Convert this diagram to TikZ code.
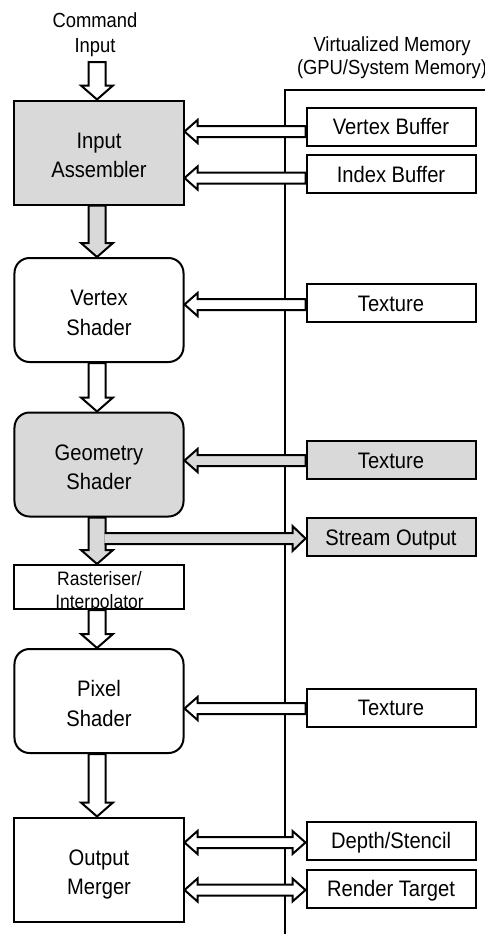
\documentclass[tikz,border=0pt]{standalone}
\usepackage{fontspec}
\setmainfont{Liberation Sans}[FakeStretch=0.9]
\usetikzlibrary{calc}
\definecolor{panelgray}{RGB}{217,217,217}

% two centred lines with fixed top and bottom struts, so every box
% places its baselines the same way
\newcommand\twolines[4]{\rule{0pt}{#1}#3\\#4\rule[-#2]{0pt}{#2}}

\tikzset{
  stage/.style={draw, line width=2bp, minimum width=169bp, minimum height=104bp,
    align=center, inner sep=0pt, font=\fontsize{22.5}{30}\selectfont},
  shader/.style={stage, rounded corners=15bp},
  membox/.style={draw, line width=2bp, minimum width=169bp, minimum height=38bp,
    inner sep=0pt, text height=16bp, text depth=0pt, font=\fontsize{22.5}{25}\selectfont},
  caption/.style={align=center, inner sep=0pt},
  arrowline/.style={line width=2bp, line join=miter, miter limit=10},
  memline/.style={line width=2bp},
}

% Hollow block arrow: #1 fill, #2 half shaft width, #3 half head width,
% #4 head length, #5 tail, #6 tip
\newcommand\blockarrow[6]{%
  \path #5 coordinate (ba-s) #6 coordinate (ba-e);
  \path ($(ba-e)!#4!(ba-s)$) coordinate (ba-h);
  \filldraw[arrowline, fill=#1]
    ($(ba-s)!#2!90:(ba-e)$) -- ($(ba-h)!#2!90:(ba-e)$) -- ($(ba-h)!#3!90:(ba-e)$)
    -- (ba-e) -- ($(ba-h)!#3!-90:(ba-e)$) -- ($(ba-h)!#2!-90:(ba-e)$)
    -- ($(ba-s)!#2!-90:(ba-e)$) -- cycle;
}
% Same, with the tail left open so it merges into another arrow
\newcommand\brancharrow[6]{%
  \path #5 coordinate (ba-s) #6 coordinate (ba-e);
  \path ($(ba-e)!#4!(ba-s)$) coordinate (ba-h);
  \filldraw[arrowline, fill=#1]
    ($(ba-s)!#2!90:(ba-e)$) -- ($(ba-h)!#2!90:(ba-e)$) -- ($(ba-h)!#3!90:(ba-e)$)
    -- (ba-e) -- ($(ba-h)!#3!-90:(ba-e)$) -- ($(ba-h)!#2!-90:(ba-e)$)
    -- ($(ba-s)!#2!-90:(ba-e)$);
}
% Two-headed hollow arrow
\newcommand\twowayarrow[6]{%
  \path #5 coordinate (ba-s) #6 coordinate (ba-e);
  \path ($(ba-e)!#4!(ba-s)$) coordinate (ba-h) ($(ba-s)!#4!(ba-e)$) coordinate (ba-g);
  \filldraw[arrowline, fill=#1]
    (ba-s) -- ($(ba-g)!#3!90:(ba-e)$) -- ($(ba-g)!#2!90:(ba-e)$)
    -- ($(ba-h)!#2!90:(ba-e)$) -- ($(ba-h)!#3!90:(ba-e)$)
    -- (ba-e) -- ($(ba-h)!#3!-90:(ba-e)$) -- ($(ba-h)!#2!-90:(ba-e)$)
    -- ($(ba-g)!#2!-90:(ba-e)$) -- ($(ba-g)!#3!-90:(ba-e)$) -- cycle;
}

\begin{document}
\begin{tikzpicture}[x=1bp, y=-1bp]
\useasboundingbox (0,0) rectangle (485,934);

% memory boundary
\draw[memline] (285,934) -- (285,90) -- (490,90);
\node[caption, font=\fontsize{20.5}{24}\selectfont] (vmem) at (392,56)
  {\twolines{20bp}{6bp}{Virtualized Memory}{(GPU/System Memory)}};

% pipeline stages
\node[caption, font=\fontsize{20.5}{26}\selectfont] (cmd) at (95,33)
  {\twolines{20bp}{6bp}{Command}{Input}};
\node[stage, fill=panelgray] (ia) at (99,152.5) {\twolines{27bp}{6bp}{Input}{Assembler}};
\node[shader, fill=white] (vs) at (99,310) {\twolines{27bp}{6bp}{Vertex}{Shader}};
\node[shader, fill=panelgray] (gs) at (99,464.5) {\twolines{27bp}{6bp}{Geometry}{Shader}};
\node[draw, line width=2bp, minimum width=169bp, minimum height=44bp, inner sep=0pt,
      fill=white] (rast) at (99,587) {};
\node[caption, font=\fontsize{19.5}{24}\selectfont] (rastlabel) at (99.5,590)
  {\twolines{20bp}{6bp}{Rasteriser/}{Interpolator}};
\node[shader, fill=white] (ps) at (99,701) {\twolines{27bp}{6bp}{Pixel}{Shader}};
\node[stage, fill=white] (om) at (99,869.5) {\twolines{27bp}{6bp}{Output}{Merger}};

% memory resources
\node[membox] (vb) at (391,126.5) {Vertex Buffer};
\node[membox] (ib) at (391,174) {Index Buffer};
\node[membox] (tx1) at (391,303) {Texture};
\node[membox, fill=panelgray] (tx2) at (391,460) {Texture};
\node[membox, fill=panelgray] (so) at (391,537) {Stream Output};
\node[membox] (tx3) at (391,707.5) {Texture};
\node[membox] (ds) at (391,840.5) {Depth/Stencil};
\node[membox] (rt) at (391,888.5) {Render Target};

% down the pipeline
\coordinate (cmdfoot) at (97,62);
\blockarrow{white}{8.5bp}{16bp}{14bp}{(cmdfoot)}{(ia.north -| cmdfoot)}
\blockarrow{panelgray}{8.5bp}{16bp}{14bp}{(ia.south -| cmdfoot)}{(vs.north -| cmdfoot)}
\blockarrow{white}{8.5bp}{16bp}{14bp}{(vs.south -| cmdfoot)}{(gs.north -| cmdfoot)}
\blockarrow{panelgray}{8.5bp}{16bp}{14bp}{(gs.south -| cmdfoot)}{(rast.north -| cmdfoot)}
\blockarrow{white}{8.5bp}{16bp}{14bp}{(rast.south -| cmdfoot)}{(ps.north -| cmdfoot)}
\blockarrow{white}{8.5bp}{16bp}{14bp}{(ps.south -| cmdfoot)}{(om.north -| cmdfoot)}

% reads from memory
\coordinate (vbin) at ($(vb.west)+(0,5)$);
\coordinate (ibin) at ($(ib.west)+(0,4)$);
\coordinate (tx1in) at ($(tx1.west)+(0,1.5)$);
\coordinate (tx2in) at ($(tx2.west)+(0,0.5)$);
\coordinate (tx3in) at ($(tx3.west)+(0,1)$);
\blockarrow{white}{5.5bp}{11.5bp}{13bp}{(vbin)}{(ia.east |- vbin)}
\blockarrow{white}{5.5bp}{11.5bp}{13bp}{(ibin)}{(ia.east |- ibin)}
\blockarrow{white}{5.5bp}{11.5bp}{13bp}{(tx1in)}{(vs.east |- tx1in)}
\blockarrow{panelgray}{5.5bp}{11.5bp}{13bp}{(tx2in)}{(gs.east |- tx2in)}
\blockarrow{white}{5.5bp}{11.5bp}{13bp}{(tx3in)}{(ps.east |- tx3in)}

% stream output branches off the geometry shader arrow
\coordinate (soin) at ($(so.west)+(0,1.5)$);
\brancharrow{panelgray}{5.5bp}{12.5bp}{13bp}{($(cmdfoot |- soin)+(7.5,0)$)}{(soin)}

% read/write targets
\coordinate (dsio) at ($(ds.west)+(0,2)$);
\coordinate (rtio) at ($(rt.west)+(0,1.5)$);
\twowayarrow{white}{5.5bp}{11.5bp}{13bp}{(om.east |- dsio)}{(dsio)}
\twowayarrow{white}{5.5bp}{11.5bp}{13bp}{(om.east |- rtio)}{(rtio)}
\end{tikzpicture}
\end{document}
